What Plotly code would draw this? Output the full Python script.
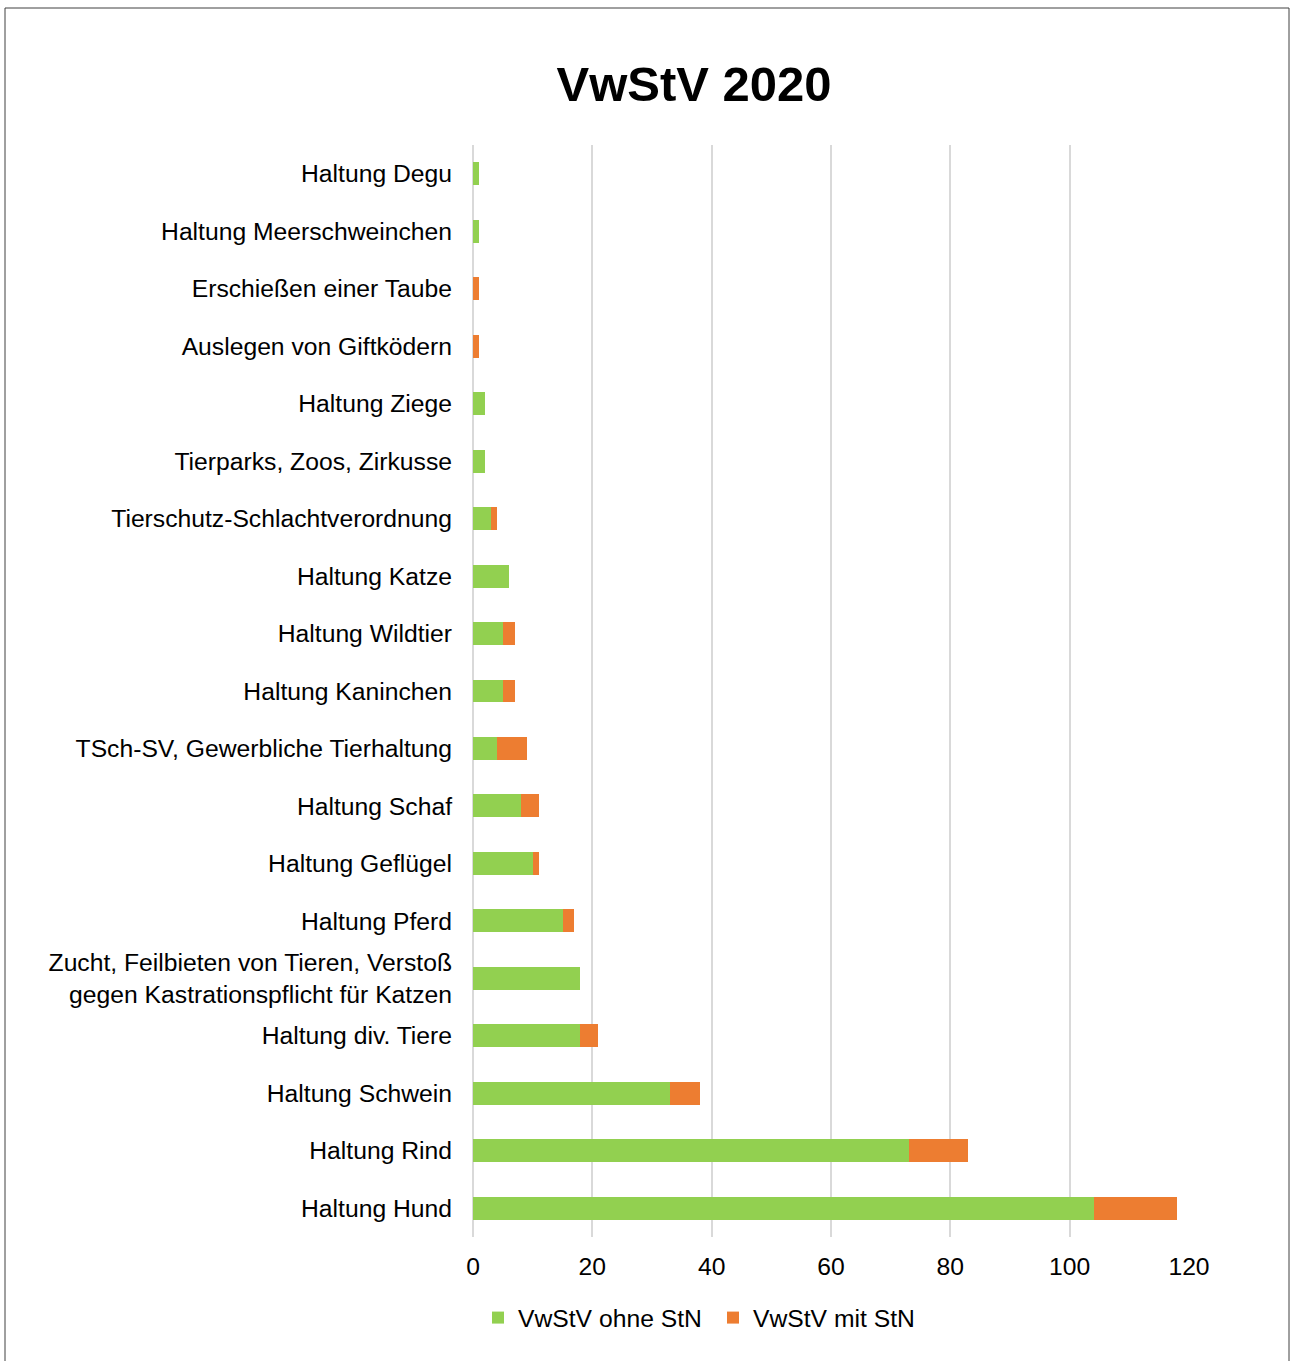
import plotly.graph_objects as go

categories = [
    "Haltung Degu",
    "Haltung Meerschweinchen",
    "Erschießen einer Taube",
    "Auslegen von Giftködern",
    "Haltung Ziege",
    "Tierparks, Zoos, Zirkusse",
    "Tierschutz-Schlachtverordnung",
    "Haltung Katze",
    "Haltung Wildtier",
    "Haltung Kaninchen",
    "TSch-SV, Gewerbliche Tierhaltung",
    "Haltung Schaf",
    "Haltung Geflügel",
    "Haltung Pferd",
    "Zucht, Feilbieten von Tieren, Verstoß<br>gegen Kastrationspflicht für Katzen",
    "Haltung div. Tiere",
    "Haltung Schwein",
    "Haltung Rind",
    "Haltung Hund",
]
ohne_stn = [1, 1, 0, 0, 2, 2, 3, 6, 5, 5, 4, 8, 10, 15, 18, 18, 33, 73, 104]
mit_stn = [0, 0, 1, 1, 0, 0, 1, 0, 2, 2, 5, 3, 1, 2, 0, 3, 5, 10, 14]
x_ticks = [0, 20, 40, 60, 80, 100, 120]

FONT = "Liberation Sans, Arial, sans-serif"

fig = go.Figure()
fig.add_trace(go.Bar(
    y=categories, x=ohne_stn, orientation="h", name="VwStV ohne StN",
    marker=dict(color="#92D050", line=dict(width=0)), width=0.4,
))
fig.add_trace(go.Bar(
    y=categories, x=mit_stn, orientation="h", name="VwStV mit StN",
    marker=dict(color="#ED7D31", line=dict(width=0)), width=0.4,
))

fig.update_layout(
    barmode="stack",
    width=1290, height=1361,
    paper_bgcolor="white", plot_bgcolor="white",
    margin=dict(l=473, r=101, t=145, b=124),
    font=dict(family=FONT, size=24.7, color="black"),
    title=dict(text="<b>VwStV 2020</b>", x=0.538, xanchor="center", xref="container",
               y=1 - 84 / 1361, yanchor="middle", yref="container",
               font=dict(family=FONT, size=49, color="black")),
    xaxis=dict(range=[0, 120], tickvals=x_ticks, showgrid=True, gridcolor="#D9D9D9",
               gridwidth=2, zeroline=True, zerolinecolor="#D9D9D9", zerolinewidth=2,
               showline=False, ticks="", ticklabelstandoff=12,
               tickfont=dict(size=24.7, color="black")),
    yaxis=dict(categoryorder="array", categoryarray=categories, autorange="reversed",
               showgrid=False, ticks="", ticklabelstandoff=20, showline=False,
               tickfont=dict(size=24.7, color="black")),
    legend=dict(orientation="h", x=(478 - 473) / 716, xanchor="left", y=-0.0742, yanchor="middle",
                font=dict(size=24.7, color="black"), itemwidth=30, traceorder="normal",
                itemsizing="constant", entrywidth=190, entrywidthmode="pixels"),
    shapes=[dict(type="rect", xref="paper", yref="paper",
                 x0=(5 - 473) / 716, x1=(1289 - 473) / 716,
                 y0=(1237 - 1362) / 1092, y1=(1237 - 8) / 1092,
                 line=dict(color="#404040", width=1), fillcolor="rgba(0,0,0,0)",
                 layer="below")],
)

fig.write_html("out.html", config={"displayModeBar": False},
               post_script="document.body.style.margin='0';document.body.style.padding='0';")
